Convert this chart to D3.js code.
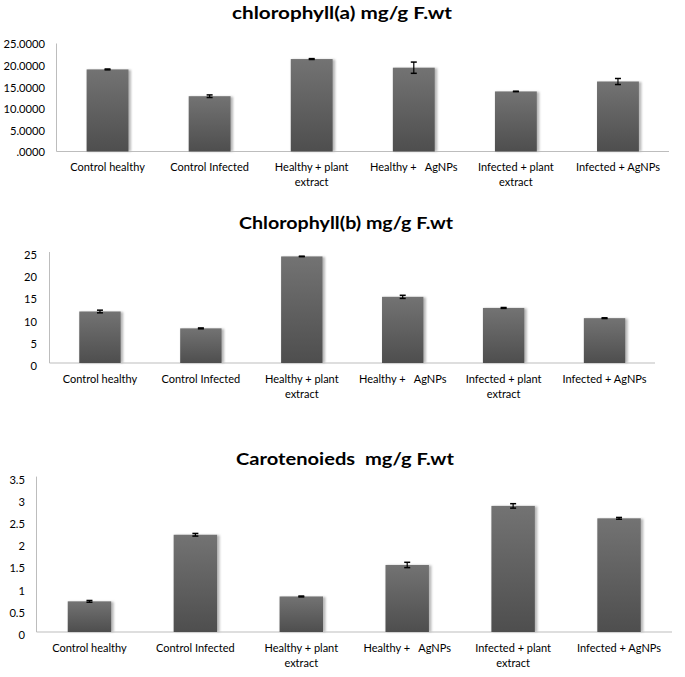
<!DOCTYPE html>
<html><head><meta charset="utf-8">
<script src="https://cdn.jsdelivr.net/npm/d3@7"></script>
<style>
body{margin:0;background:#fff;}
svg text{font-family:Lato,"Open Sans",sans-serif;white-space:pre;}
</style></head>
<body><svg id="c" width="685" height="677"></svg>
<script>
const categories = [["Control healthy"],["Control Infected"],["Healthy + plant","extract"],["Healthy +   AgNPs"],["Infected + plant","extract"],["Infected + AgNPs"]];

const titles = ["chlorophyll(a) mg/g F.wt","Chlorophyll(b) mg/g F.wt","Carotenoieds  mg/g F.wt"];

const chlA = [19.0, 12.8, 21.4, 19.4, 13.9, 16.2];
const chlAErr = [0.1, 0.3, 0.1, 1.3, 0.05, 0.7];
const chlB = [11.6, 7.8, 24.0, 14.9, 12.4, 10.1];
const chlBErr = [0.3, 0.1, 0.05, 0.35, 0.1, 0.08];
const carot = [0.69, 2.19, 0.80, 1.51, 2.84, 2.56];
const carotErr = [0.02, 0.03, 0.01, 0.06, 0.05, 0.02];

const ticksA = [0,5,10,15,20,25];
const tickLabelsA = [".0000","5.0000","10.0000","15.0000","20.0000","25.0000"];
const ticksB = [0,5,10,15,20,25];
const tickLabelsB = ["0","5","10","15","20","25"];
const ticksC = [0,0.5,1,1.5,2,2.5,3,3.5];
const tickLabelsC = ["0","0.5","1","1.5","2","2.5","3","3.5"];

const svg = d3.select("#c");
const defs = svg.append("defs");
const g = defs.append("linearGradient").attr("id","barGrad").attr("x1",0).attr("y1",0).attr("x2",0).attr("y2",1);
g.append("stop").attr("offset","0%").attr("stop-color","#737373");
g.append("stop").attr("offset","100%").attr("stop-color","#4e4e4e");
const f = defs.append("filter").attr("id","shadow").attr("x","-20%").attr("y","-20%").attr("width","140%").attr("height","140%");
f.append("feGaussianBlur").attr("stdDeviation",1.2);

const panels = [
  {title:titles[0], tx:342, ty:19, tw:220, vals:chlA, err:chlAErr, ticks:ticksA, labels:tickLabelsA, max:25,
   x0:56.5, x1:669, y0:151.5, y1:43.5, labelRight:45, tickDy:1},
  {title:titles[1], tx:346, ty:229, tw:214, vals:chlB, err:chlBErr, ticks:ticksB, labels:tickLabelsB, max:25,
   x0:49.5, x1:655, y0:363, y1:252, labelRight:37, tickDy:3},
  {title:titles[2], tx:345, ty:465, tw:218, vals:carot, err:carotErr, ticks:ticksC, labels:tickLabelsC, max:3.5,
   x0:36.5, x1:672, y0:632, y1:476.6, labelRight:25, tickDy:3}
];

panels.forEach(p => {
  const gp = svg.append("g");
  const x = d3.scaleBand().domain(d3.range(categories.length)).range([p.x0, p.x1]).paddingInner(0.59).paddingOuter(0.295);
  const y = d3.scaleLinear().domain([0, p.max]).range([p.y0, p.y1]);

  gp.append("text").attr("x", p.tx).attr("y", p.ty).attr("text-anchor","middle")
    .attr("font-size", 17.5).attr("font-weight","bold").attr("fill","#000")
    .attr("textLength", p.tw).attr("lengthAdjust","spacingAndGlyphs").text(p.title);

  // axes lines
  gp.append("line").attr("x1", p.x0).attr("x2", p.x0).attr("y1", y(p.max)).attr("y2", p.y0)
    .attr("stroke","#bdbdbd").attr("stroke-width",1);
  gp.append("line").attr("x1", p.x0).attr("x2", p.x1).attr("y1", p.y0).attr("y2", p.y0)
    .attr("stroke","#bdbdbd").attr("stroke-width",1);

  // y tick labels
  gp.selectAll(".yt").data(p.ticks).enter().append("text")
    .attr("x", p.labelRight).attr("y", d => y(d) + p.tickDy).attr("dy","0.35em")
    .attr("text-anchor","end").attr("font-size",11.2).attr("fill","#000")
    .text((d,i) => p.labels[i]);

  // bar shadows
  gp.selectAll(".sh").data(p.vals).enter().append("rect")
    .attr("x",(d,i)=>x(i)+1).attr("y",d=>y(d)+0.5).attr("width",x.bandwidth()+1.5)
    .attr("height",d=>p.y0-y(d)-0.5).attr("fill","#b8b8b8").attr("filter","url(#shadow)");
  // bars
  gp.selectAll(".bar").data(p.vals).enter().append("rect")
    .attr("x",(d,i)=>x(i)).attr("y",d=>y(d)).attr("width",x.bandwidth())
    .attr("height",d=>p.y0-y(d)).attr("fill","url(#barGrad)");

  // error bars
  p.vals.forEach((v,i) => {
    const cx = x(i) + x.bandwidth()/2;
    const e = p.err[i];
    const yt = y(v+e), yb = y(v-e);
    gp.append("line").attr("x1",cx).attr("x2",cx).attr("y1",yt).attr("y2",yb).attr("stroke","#000").attr("stroke-width",1.2);
    [yt,yb].forEach(yy => gp.append("line").attr("x1",cx-3).attr("x2",cx+3).attr("y1",yy).attr("y2",yy).attr("stroke","#000").attr("stroke-width",1.5));
  });

  // category labels
  categories.forEach((lines,i) => {
    const cx = x(i) + x.bandwidth()/2;
    const t = gp.append("text").attr("text-anchor","middle").attr("font-size",11).attr("fill","#000");
    lines.forEach((ln,j) => {
      t.append("tspan").attr("x",cx).attr("y",p.y0 + 16 + j*15).attr("dy","0.35em").text(ln);
    });
  });
});
</script></body></html>
